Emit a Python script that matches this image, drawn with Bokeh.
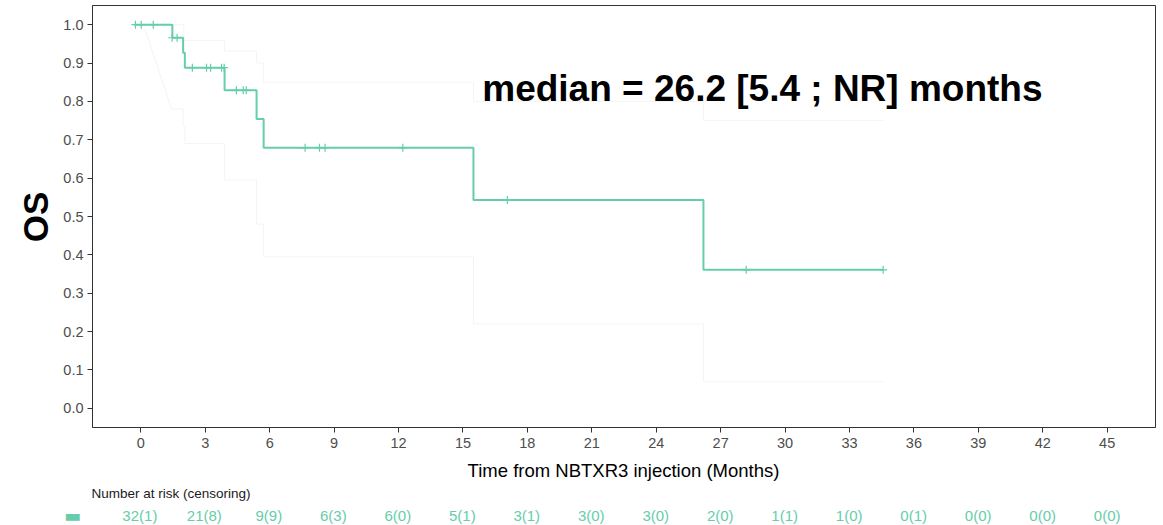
from math import pi
from bokeh.plotting import figure
from bokeh.layouts import column, row
from bokeh.models import Label, FixedTicker, NumeralTickFormatter, Range1d
from bokeh.embed import file_html
from bokeh.resources import INLINE

# ---- data ----
step_times = [-0.3, 1.47, 1.97, 2.05, 3.90, 5.39, 5.72, 15.49, 26.2, 34.57]
step_surv = [1.0, 0.966, 0.927, 0.888, 0.829, 0.754, 0.679, 0.543, 0.361, 0.361]

censor_times = [-0.25, 0.02, 0.58, 1.46, 1.69, 2.40, 3.06, 3.25, 3.76, 3.88,
                4.45, 4.77, 4.91, 7.65, 8.32, 8.58, 12.2, 17.07, 28.19, 34.57]
censor_surv = [1.0, 1.0, 1.0, 0.966, 0.966, 0.888, 0.888, 0.888, 0.888, 0.888,
               0.829, 0.829, 0.829, 0.679, 0.679, 0.679, 0.679, 0.543, 0.361, 0.361]

upper_times = [1.43, 2.0, 3.90, 5.39, 5.72, 15.49, 26.2, 34.57]
upper_ci = [1.0, 0.959, 0.931, 0.90, 0.850, 0.80, 0.75, 0.75]

lower_diag_t = [0.18, 1.43]
lower_diag_v = [0.99, 0.78]
lower_times = [1.43, 1.97, 2.05, 3.90, 5.39, 5.72, 15.49, 26.2, 34.57]
lower_ci = [0.78, 0.736, 0.69, 0.595, 0.48, 0.395, 0.22, 0.069, 0.069]

x_ticks = [0, 3, 6, 9, 12, 15, 18, 21, 24, 27, 30, 33, 36, 39, 42, 45]
y_ticks = [0.0, 0.1, 0.2, 0.3, 0.4, 0.5, 0.6, 0.7, 0.8, 0.9, 1.0]
at_risk = ["32(1)", "21(8)", "9(9)", "6(3)", "6(0)", "5(1)", "3(1)", "3(0)",
           "3(0)", "2(0)", "1(1)", "1(0)", "0(1)", "0(0)", "0(0)", "0(0)"]

median_text = "median = 26.2 [5.4 ; NR] months"
x_label = "Time from NBTXR3 injection (Months)"
y_label = "OS"
risk_title = "Number at risk (censoring)"

TEAL = "#66CDAA"
FONT = "Liberation Sans"
CI_COLOR = "#f4f4f4"

X0, X1 = -2.25, 47.25
PX_PER_X = 1064 / (X1 - X0)

# ---- left strip holding the y title ----
left = figure(width=60, height=455, output_backend="svg", toolbar_location=None,
              x_range=Range1d(0, 60), y_range=Range1d(0, 455),
              min_border=0, outline_line_color=None)
left.axis.visible = False
left.grid.visible = False
left.add_layout(Label(x=35, y=227, text=y_label, angle=pi / 2, text_font=FONT,
                      text_font_size="35px", text_font_style="bold", text_color="black",
                      text_align="center", text_baseline="middle"))

# ---- main KM panel ----
p = figure(width=1103, height=455, output_backend="svg", toolbar_location=None,
           x_range=Range1d(X0, X1), y_range=Range1d(-0.05, 1.05),
           min_border_left=31, min_border_right=8, min_border_top=5,
           min_border_bottom=28)
p.background_fill_color = "white"
p.border_fill_color = "white"
p.xgrid.visible = False
p.ygrid.visible = False
p.outline_line_color = "#333333"
p.outline_line_width = 1

for ax in (p.xaxis[0], p.yaxis[0]):
    ax.axis_line_color = "#333333"
    ax.major_tick_line_color = "#333333"
    ax.major_tick_in = 0
    ax.major_tick_out = 5
    ax.minor_tick_line_color = None
    ax.major_label_text_font = FONT
    ax.major_label_text_font_size = "14.5px"
    ax.major_label_text_color = "#4d4d4d"
p.xaxis.ticker = FixedTicker(ticks=x_ticks)
p.yaxis.ticker = FixedTicker(ticks=y_ticks)
p.yaxis.formatter = NumeralTickFormatter(format="0.0")
p.xaxis.major_label_standoff = 5
p.yaxis.major_label_standoff = 4

# faint confidence band
p.step(upper_times, upper_ci, mode="after", line_color=CI_COLOR, line_width=1)
p.line(lower_diag_t, lower_diag_v, line_color=CI_COLOR, line_width=1)
p.step(lower_times, lower_ci, mode="after", line_color=CI_COLOR, line_width=1)

# survival curve
p.step(step_times, step_surv, mode="after", line_color=TEAL, line_width=2)
p.scatter(censor_times, censor_surv, marker="cross", size=8, line_color=TEAL, line_width=1.2)

p.add_layout(Label(x=15.9, y=0.834, text=median_text, text_font=FONT,
                   text_font_size="37px", text_font_style="bold", text_color="black",
                   text_baseline="middle", text_align="left"))

# ---- bottom strip: x title and number-at-risk table ----
risk = figure(width=1163, height=70, output_backend="svg", toolbar_location=None,
              x_range=Range1d(X0 - 91 / PX_PER_X, X1 + 8 / PX_PER_X),
              y_range=Range1d(0, 70), min_border=0, outline_line_color=None)
risk.axis.visible = False
risk.grid.visible = False
risk.add_layout(Label(x=(X0 + X1) / 2, y=55, text=x_label, text_font=FONT,
                      text_font_size="18.5px", text_color="black",
                      text_align="center", text_baseline="middle"))
risk.add_layout(Label(x=X0, y=32, text=risk_title, text_font=FONT,
                      text_font_size="13.5px", text_color="#1a1a1a",
                      text_align="left", text_baseline="middle"))
risk.add_layout(Label(x=X0 - 19 / PX_PER_X, y=10, text="\u25ac", text_font="DejaVu Sans",
                      text_font_size="18px", text_color=TEAL,
                      text_align="center", text_baseline="middle"))
for t, s in zip(x_ticks, at_risk):
    risk.add_layout(Label(x=t, y=10, text=s, text_font=FONT,
                          text_font_size="15px", text_color=TEAL,
                          text_align="center", text_baseline="middle"))

layout = column(row(left, p, spacing=0), risk, spacing=0)
open("out.html", "w").write(file_html(layout, INLINE))
